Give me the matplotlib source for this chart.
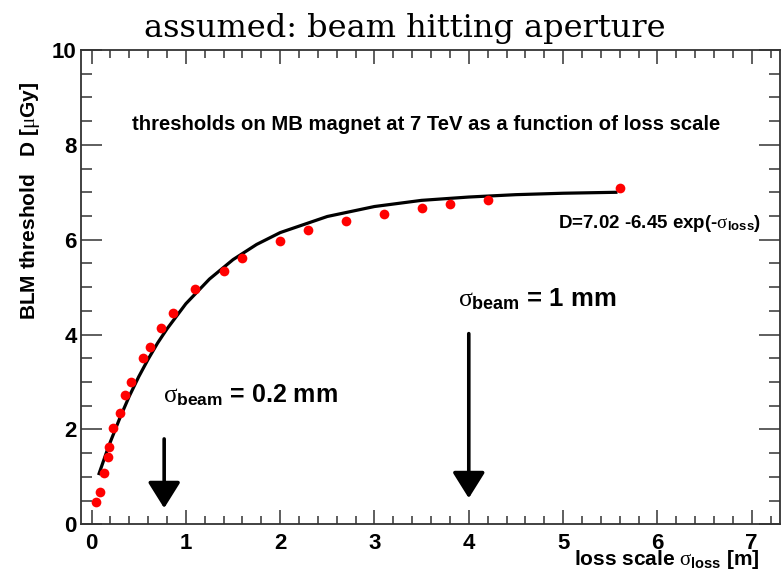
import matplotlib
matplotlib.use("Agg")
import matplotlib.pyplot as plt
from matplotlib.ticker import MultipleLocator

plt.rcParams['font.family'] = ['Liberation Sans', 'DejaVu Sans']
plt.rcParams['mathtext.fontset'] = 'custom'
plt.rcParams['mathtext.rm'] = 'Liberation Sans:bold'
plt.rcParams['mathtext.bf'] = 'Liberation Sans:bold'
plt.rcParams['mathtext.it'] = 'Liberation Serif'

# thresholds (red points)
loss_scale = [0.05, 0.09, 0.13, 0.17, 0.19, 0.23, 0.30, 0.36, 0.42, 0.55, 0.62, 0.74,
              0.86, 1.10, 1.40, 1.60, 2.00, 2.30, 2.70, 3.10, 3.50, 3.80, 4.20, 5.60]
threshold = [0.48, 0.68, 1.09, 1.42, 1.64, 2.02, 2.35, 2.72, 3.01, 3.51, 3.73, 4.13,
             4.45, 4.96, 5.33, 5.62, 5.97, 6.21, 6.39, 6.55, 6.66, 6.76, 6.83, 7.09]

# fitted curve, points
fit_x = [0.08, 0.15, 0.2, 0.3, 0.4, 0.5, 0.6, 0.7, 0.8, 1.0, 1.25, 1.5, 1.75, 2.0,
         2.5, 3.0, 3.5, 4.0, 4.5, 5.0, 5.56]
fit_y = [1.07, 1.47, 1.74, 2.24, 2.70, 3.11, 3.48, 3.82, 4.12, 4.65, 5.17, 5.58, 5.90,
         6.15, 6.49, 6.70, 6.83, 6.90, 6.95, 6.98, 7.00]

# beam size markers (arrow x, arrow top, arrow tip)
arrow_x = [0.77, 4.00]
arrow_top = [1.80, 4.02]
arrow_tip = [0.34, 0.55]

fig = plt.figure(figsize=(7.82, 5.73), dpi=100)
ax = fig.add_axes([80.7 / 782, 48.7 / 573, 699.3 / 782, 474.3 / 573])

ax.plot(fit_x, fit_y, color='black', lw=2.3, zorder=2)
ax.plot(loss_scale, threshold, 'o', color='#ff0000', ms=7, mec='none', zorder=3)

for x, y0, y1 in zip(arrow_x, arrow_top, arrow_tip):
    ax.annotate("", xy=(x, y1), xytext=(x, y0),
                arrowprops=dict(arrowstyle='-|>,head_length=16,head_width=10',
                                mutation_scale=1, lw=2.6, color='black',
                                shrinkA=0, shrinkB=0))

ax.set_xlim(-0.115, 7.30)
ax.set_ylim(0, 10)
ax.xaxis.set_major_locator(MultipleLocator(1))
ax.xaxis.set_minor_locator(MultipleLocator(0.2))
ax.yaxis.set_major_locator(MultipleLocator(2))
ax.yaxis.set_minor_locator(MultipleLocator(0.5))

for s in ax.spines.values():
    s.set_linewidth(1.3)
    s.set_color('#333333')
ax.tick_params(which='both', direction='in', top=True, right=True, color='#333333', width=1.1)
ax.tick_params(axis='y', which='major', length=15, pad=3)
ax.tick_params(axis='y', which='minor', length=8)
ax.tick_params(axis='x', which='major', length=10, pad=6)
ax.tick_params(axis='x', which='minor', length=5.5)
for lab in ax.get_xticklabels() + ax.get_yticklabels():
    lab.set_fontsize(16)
    lab.set_fontweight('bold')

ax.text(3.55, 8.42, "thresholds on MB magnet at 7 TeV as a function of loss scale",
        fontsize=14.6, fontweight='bold', ha='center', va='center')
ax.text(4.95, 6.25, r"D=7.02 -6.45 exp(-$\sigma_{\mathbf{loss}}$)",
        fontsize=13.5, fontweight='bold', ha='left', va='baseline')
ax.text(0.76, 2.56, r"$\sigma_{\mathbf{beam}}$ = 0.2 mm",
        fontsize=18, fontweight='bold', ha='left', va='baseline')
ax.text(3.89, 4.59, r"$\sigma_{\mathbf{beam}}$ = 1 mm",
        fontsize=18.5, fontweight='bold', ha='left', va='baseline')

fig.text(405 / 782, 1 - 37 / 573, "assumed: beam hitting aperture",
         family='DejaVu Serif', fontsize=23, ha='center', va='baseline')
fig.text(760 / 782, 1 - 565 / 573, r"loss scale $\sigma_{\mathbf{loss}}$ [m]",
         fontsize=15, fontweight='bold', ha='right', va='baseline')
fig.text(30 / 782, 1 - 82 / 573, r"BLM threshold   D [$\mu$Gy]",
         fontsize=15, fontweight='bold', rotation=90, ha='center', va='top')

fig.savefig("out.png", dpi=100)
